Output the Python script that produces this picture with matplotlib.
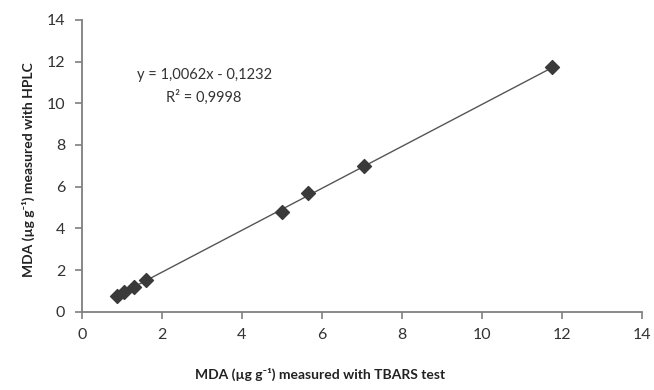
import matplotlib
matplotlib.use('Agg')
import matplotlib.pyplot as plt
import numpy as np

plt.rcParams['font.family'] = ['Lato', 'DejaVu Sans']

# MDA values
tbars = [0.88, 1.05, 1.30, 1.60, 5.00, 5.66, 7.06, 11.75]
hplc = [0.77, 0.93, 1.18, 1.50, 4.78, 5.69, 6.99, 11.72]

slope = 1.0062
intercept = -0.1232
eq_text = 'y = 1,0062x - 0,1232'
r2_text = 'R² = 0,9998'

x_ticks = [0, 2, 4, 6, 8, 10, 12, 14]
y_ticks = [0, 2, 4, 6, 8, 10, 12, 14]

fig = plt.figure(figsize=(6.54, 3.9), dpi=100)
ax = fig.add_axes([0.125, 0.2008, 0.856, 0.748])

# trendline across the measured range
xl = np.array([min(tbars), max(tbars)])
ax.plot(xl, slope * xl + intercept, color='#555555', lw=1.0, zorder=2)
ax.scatter(tbars, hplc, marker='D', s=50, color='#3a3a3a', zorder=3)

ax.set_xlim(0, 14)
ax.set_ylim(0, 14)
ax.set_xticks(x_ticks)
ax.set_yticks(y_ticks)

for s in ['top', 'right']:
    ax.spines[s].set_visible(False)
for s in ['left', 'bottom']:
    ax.spines[s].set_color('#7f7f7f')
    ax.spines[s].set_linewidth(1.3)
ax.tick_params(axis='both', direction='out', length=5, width=1.2, color='#7f7f7f',
               labelsize=11.5, labelcolor='#333333', pad=7)

ax.text(3.06, 11.35, eq_text, ha='center', va='center', fontsize=10.5, color='#333333')
ax.text(3.06, 10.3, r2_text, ha='center', va='center', fontsize=10.5, color='#333333')

fig.text(0.49, 0.04, 'MDA (µg g⁻¹) measured with TBARS test', ha='center', va='center',
         fontsize=10, fontweight='bold', color='#222222')
fig.text(0.043, 0.565, 'MDA (µg g⁻¹) measured with HPLC', ha='center', va='center',
         rotation=90, fontsize=10, fontweight='bold', color='#222222')

fig.savefig('out.png', dpi=100)
